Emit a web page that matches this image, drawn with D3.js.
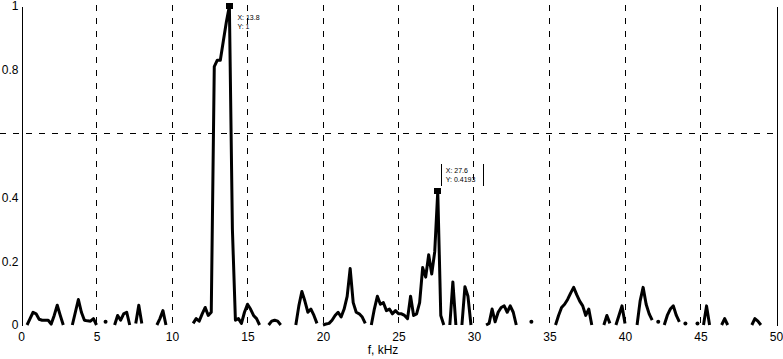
<!DOCTYPE html>
<html><head><meta charset="utf-8">
<script src="https://cdn.jsdelivr.net/npm/d3@7/dist/d3.min.js"></script>
<style>body{margin:0;background:#fff}svg{display:block}</style>
</head><body>
<script>
// sampling step of the spectrum (kHz)
const fStep = 0.2;
// normalised amplitude at f = 0, 0.2, 0.4 ... 50 kHz (null = not drawn)
const amplitude = [
  null, null, 0.0, 0.02, 0.04, 0.035, 0.018, 0.015, 0.015, 0.015,
  0.003, 0.03, 0.062, 0.03, 0.0, null, null, 0.0, 0.04, 0.08,
  0.04, 0.015, 0.013, 0.012, 0.02, 0.0, null, null, 0.01, null,
  null, 0.0, 0.03, 0.015, 0.035, 0.04, 0.0, null, 0.005, 0.062,
  0.005, null, null, null, null, 0.0, 0.02, 0.045, 0.0, null,
  null, null, null, null, null, null, null, 0.005, 0.02, 0.012,
  0.035, 0.055, 0.03, 0.04, 0.81, 0.83, 0.83, 0.89, 0.95, 1.0,
  0.3, 0.015, 0.02, 0.005, 0.04, 0.065, 0.05, 0.03, 0.02, 0.0,
  null, null, 0.0, 0.012, 0.015, 0.012, 0.0, null, null, null,
  null, 0.0, 0.06, 0.105, 0.075, 0.04, 0.05, 0.03, 0.005, null,
  0.0, 0.003, 0.005, 0.015, 0.03, 0.04, 0.025, 0.05, 0.09, 0.177,
  0.07, 0.04, 0.035, 0.025, 0.005, null, 0.0, 0.05, 0.09, 0.065,
  0.07, 0.045, 0.05, 0.035, 0.045, 0.035, 0.035, 0.03, 0.02, 0.09,
  0.03, 0.035, 0.07, 0.18, 0.15, 0.22, 0.16, 0.23, 0.4193, 0.03,
  0.0, null, 0.0, 0.135, 0.0, null, 0.0, 0.12, 0.09, 0.0,
  null, null, null, null, 0.0, 0.005, 0.05, 0.01, 0.04, 0.055,
  0.06, 0.04, 0.06, 0.04, 0.0, null, null, null, null, 0.01,
  null, null, null, null, null, null, null, 0.0, 0.03, 0.055,
  0.065, 0.08, 0.1, 0.118, 0.095, 0.075, 0.06, 0.03, 0.05, 0.0,
  null, null, null, 0.0, 0.03, 0.005, null, 0.0, 0.03, 0.06,
  0.005, null, null, null, 0.0, 0.075, 0.118, 0.065, 0.035, 0.015,
  null, 0.01, null, 0.0, 0.03, 0.05, 0.06, 0.03, 0.01, null,
  0.005, null, null, null, 0.005, null, 0.0, 0.06, 0.0, null,
  null, null, 0.0, 0.02, 0.0, null, null, null, null, null,
  null, null, 0.0, 0.02, 0.012, 0.0, null, null, null, null,
  null
];
const xTickValues = [0, 5, 10, 15, 20, 25, 30, 35, 40, 45, 50];
const yTickValues = [0, 0.2, 0.4, 0.8, 1];
const xGridValues = [5, 10, 15, 20, 25, 30, 35, 40, 45];
const thresholdValue = 0.6;
const tipF = [13.8, 27.6];
const tipA = [1, 0.4193];
const tipLines = [["X: 13.8", "Y: 1"], ["X: 27.6", "Y: 0.4193"]];
const tipBoxed = [false, true];
const xLabel = "f, kHz";

const W = 783, H = 359;
const svg = d3.select("body").append("svg").attr("width", W).attr("height", H);
const x = d3.scaleLinear().domain([0, 50]).range([21, 776]);
const y = d3.scaleLinear().domain([0, 1]).range([325, 6]);
const FONT = "'Liberation Sans', Arial, Helvetica, sans-serif";

const data = amplitude.map((a, i) => ({ f: i * fStep, a: a }));

// vertical dashed grid
svg.append("g").selectAll("line").data(xGridValues).join("line")
  .attr("x1", d => Math.floor(x(d)) + 0.5).attr("x2", d => Math.floor(x(d)) + 0.5)
  .attr("y1", y(1) - 1).attr("y2", y(0) + 1)
  .attr("stroke", "#000").attr("stroke-width", 1)
  .attr("stroke-dasharray", "6,7").attr("shape-rendering", "crispEdges");

// horizontal threshold dashed line
svg.append("line")
  .attr("x1", 0).attr("x2", x(50))
  .attr("y1", Math.floor(y(thresholdValue)) + 0.5).attr("y2", Math.floor(y(thresholdValue)) + 0.5)
  .attr("stroke", "#000").attr("stroke-width", 1)
  .attr("stroke-dasharray", "6,7").attr("shape-rendering", "crispEdges");

// left axis
const gl = svg.append("g").attr("transform", `translate(${Math.floor(x(0)) + 0.5},0)`)
  .call(d3.axisLeft(y).tickValues(yTickValues).tickSize(0).tickPadding(3)
    .tickFormat(d => d3.format("")(d)));
gl.select(".domain").attr("stroke", "#000").attr("shape-rendering", "crispEdges");
gl.selectAll("text").attr("font-family", FONT).attr("font-size", 12).attr("fill", "#000");

// right axis
const gr = svg.append("g").attr("transform", `translate(${Math.floor(x(50)) + 0.5},0)`)
  .call(d3.axisRight(y).tickValues([]).tickSize(0));
gr.select(".domain").attr("stroke", "#000").attr("shape-rendering", "crispEdges");

// bottom axis (labels only)
const gb = svg.append("g").attr("transform", `translate(0,${y(0)})`)
  .call(d3.axisBottom(x).tickValues(xTickValues).tickSize(0).tickPadding(7.5));
gb.select(".domain").remove();
gb.selectAll("text").attr("font-family", FONT).attr("font-size", 12).attr("fill", "#000");

// x label
svg.append("text").attr("x", 383).attr("y", 354)
  .attr("text-anchor", "middle").attr("font-family", FONT).attr("font-size", 12)
  .attr("fill", "#000").text(xLabel);

// spectrum line
const line = d3.line().defined(d => d.a !== null).x(d => x(d.f)).y(d => y(d.a));
svg.append("path").datum(data).attr("d", line)
  .attr("fill", "none").attr("stroke", "#000").attr("stroke-width", 3)
  .attr("stroke-linejoin", "round");

// isolated points
const iso = data.filter((d, i) => d.a !== null &&
  (i === 0 || data[i - 1].a === null) && (i === data.length - 1 || data[i + 1].a === null));
svg.append("g").selectAll("circle").data(iso).join("circle")
  .attr("cx", d => x(d.f)).attr("cy", d => y(d.a)).attr("r", 2).attr("fill", "#000");

// data tips
tipF.forEach((f, k) => {
  const px = x(f), py = y(tipA[k]);
  svg.append("rect").attr("x", px - 3.5).attr("y", py - 3).attr("width", 7).attr("height", 6)
    .attr("fill", "#000").attr("shape-rendering", "crispEdges");
  const tx = px + 7, ty = k === 0 ? py + 14 : py - 18;
  tipLines[k].forEach((t, j) => {
    svg.append("text").attr("x", tx + 1).attr("y", ty + j * 9)
      .attr("font-family", FONT).attr("font-size", 7).attr("fill", "#000").text(t);
  });
  if (tipBoxed[k]) {
    const bw = 42;
    [tx - 3.5, tx - 3.5 + bw].forEach(lx => {
      svg.append("line").attr("x1", Math.round(lx) + 0.5).attr("x2", Math.round(lx) + 0.5)
        .attr("y1", ty - 9).attr("y2", ty + 13)
        .attr("stroke", "#000").attr("stroke-width", 1).attr("shape-rendering", "crispEdges");
    });
  }
});
</script>
</body></html>
